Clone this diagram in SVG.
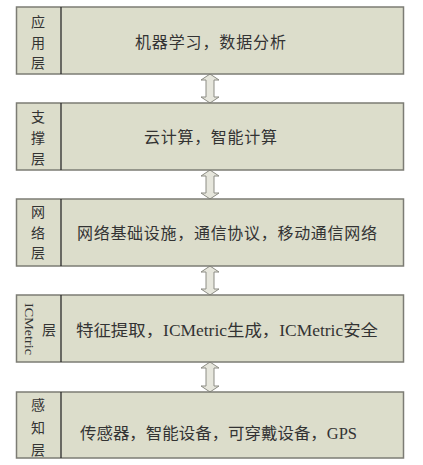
<svg xmlns="http://www.w3.org/2000/svg" width="423" height="465" viewBox="0 0 423 465">
<style>
.box{fill:#DCDDCB;stroke:#7C7C74;stroke-width:1.5}
.div{stroke:#2A2A2A;stroke-width:1.3}
.lbl{font-family:"Liberation Serif","Noto Sans CJK SC",serif;font-size:14px;fill:#333;text-anchor:middle;dominant-baseline:central}
.txt{font-family:"Liberation Serif","Noto Sans CJK SC",serif;font-size:16px;fill:#333;dominant-baseline:central}
.arr{fill:#E6E6DC;stroke:#8C8C84;stroke-width:1}
</style>
<rect width="423" height="465" fill="#ffffff"/>
<g id="connectors">
<path class="arr" d="M210,74 L219,80 L214,80 L214,97 L219,97 L210,103 L201,97 L206,97 L206,80 L201,80 Z"/>
<path class="arr" d="M210,170 L219,176 L214,176 L214,193 L219,193 L210,199 L201,193 L206,193 L206,176 L201,176 Z"/>
<path class="arr" d="M210,266 L219,272 L214,272 L214,289 L219,289 L210,295 L201,289 L206,289 L206,272 L201,272 Z"/>
<path class="arr" d="M210,362 L219,368 L214,368 L214,386 L219,386 L210,392 L201,386 L206,386 L206,368 L201,368 Z"/>
</g>
<g id="app">
<rect class="box" x="16.5" y="7" width="387" height="67"/>
<line class="div" x1="61" y1="7" x2="61" y2="74"/>
<text class="lbl" x="38" y="22">应</text>
<text class="lbl" x="38" y="43">用</text>
<text class="lbl" x="38" y="63">层</text>
<text class="txt" x="135" y="42" textLength="151" lengthAdjust="spacing">机器学习，数据分析</text>
</g>
<g id="support">
<rect class="box" x="16.5" y="103" width="387" height="67"/>
<line class="div" x1="61" y1="103" x2="61" y2="170"/>
<text class="lbl" x="38" y="117">支</text>
<text class="lbl" x="38" y="138">撑</text>
<text class="lbl" x="38" y="159">层</text>
<text class="txt" x="144" y="137" textLength="133" lengthAdjust="spacing">云计算，智能计算</text>
</g>
<g id="network">
<rect class="box" x="16.5" y="199" width="387" height="67"/>
<line class="div" x1="61" y1="199" x2="61" y2="266"/>
<text class="lbl" x="38" y="212">网</text>
<text class="lbl" x="38" y="233">络</text>
<text class="lbl" x="38" y="253">层</text>
<text class="txt" x="77" y="233" textLength="300" lengthAdjust="spacing">网络基础设施，通信协议，移动通信网络</text>
</g>
<g id="icmetric">
<rect class="box" x="16.5" y="295" width="387" height="67"/>
<line class="div" x1="61" y1="295" x2="61" y2="362"/>
<text class="lbl" x="0" y="0" transform="translate(29,329) rotate(90)" style="font-size:13px" textLength="52" lengthAdjust="spacingAndGlyphs">ICMetric</text>
<text class="lbl" x="49" y="330">层</text>
<text class="txt" x="76" y="330" textLength="302" lengthAdjust="spacingAndGlyphs">特征提取，ICMetric生成，ICMetric安全</text>
</g>
<g id="perception">
<rect class="box" x="16.5" y="392" width="387" height="66"/>
<line class="div" x1="61" y1="392" x2="61" y2="458"/>
<text class="lbl" x="38" y="405">感</text>
<text class="lbl" x="38" y="428">知</text>
<text class="lbl" x="38" y="450">层</text>
<text class="txt" x="80" y="433" textLength="277" lengthAdjust="spacingAndGlyphs">传感器，智能设备，可穿戴设备，GPS</text>
</g>
</svg>
